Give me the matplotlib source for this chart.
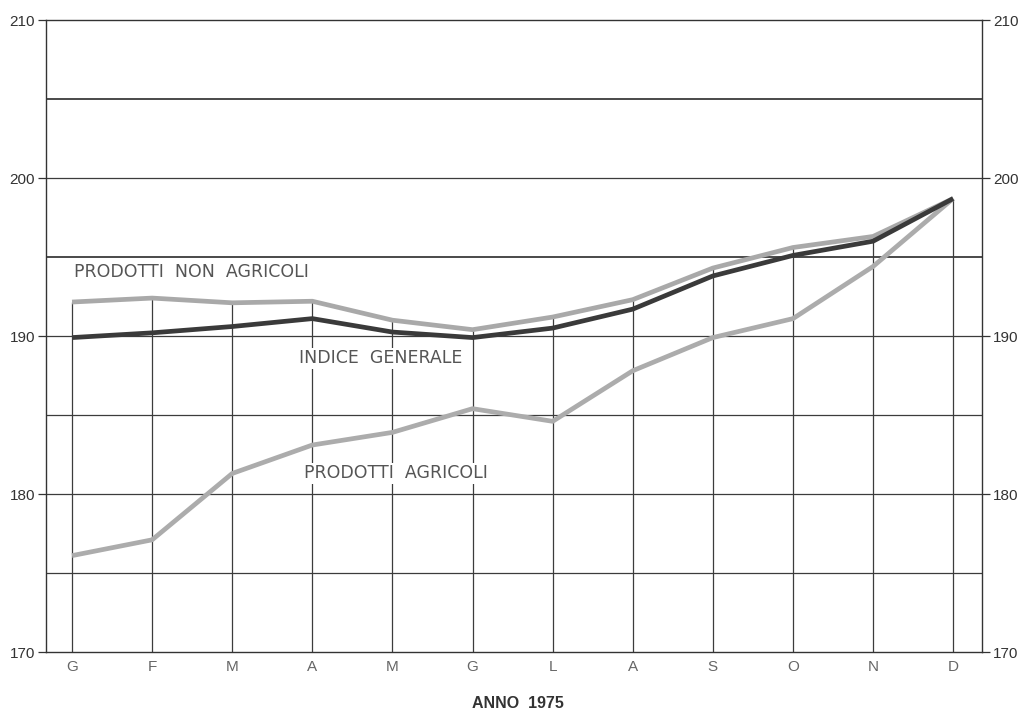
import matplotlib
matplotlib.use("Agg")
import matplotlib.pyplot as plt
import numpy as np

mesi = ["G", "F", "M", "A", "M", "G", "L", "A", "S", "O", "N", "D"]
non_agricoli = [192.15, 192.4, 192.1, 192.2, 191.0, 190.4, 191.2, 192.3, 194.3, 195.6, 196.3, 198.7]
indice_generale = [189.9, 190.2, 190.6, 191.1, 190.25, 189.9, 190.5, 191.7, 193.8, 195.1, 196.0, 198.7]
agricoli = [176.1, 177.1, 181.3, 183.1, 183.9, 185.4, 184.6, 187.8, 189.9, 191.1, 194.4, 198.7]
yticks = [170, 180, 190, 200, 210]
griglia = [175, 180, 185, 190, 195, 200, 205]

plt.rcParams['font.family'] = ['Liberation Sans', 'DejaVu Sans']

fig = plt.figure(figsize=(10.25, 7.17), dpi=100)
ax = fig.add_axes([46/1025, 1 - 652/717, 936/1025, 632/717])

x = np.arange(len(mesi))

# griglia orizzontale
for g in griglia:
	lw = 1.3 if g in (195, 205) else 0.9
	ax.axhline(g, color="#3c3c3c", lw=lw, zorder=1)

# linee verticali fino alla serie piu alta
top = np.maximum(np.maximum(non_agricoli, indice_generale), agricoli)
ax.vlines(x, 170, top, color="#3c3c3c", lw=0.9, zorder=1)

ax.plot(x, non_agricoli, color="#a9a9a9", lw=3.4, zorder=3, solid_capstyle="butt")
ax.plot(x, indice_generale, color="#3a3a3a", lw=3.4, zorder=4, solid_capstyle="butt")
ax.plot(x, agricoli, color="#acacac", lw=3.4, zorder=3, solid_capstyle="butt")

ax.set_xlim(-0.325, 11.36)
ax.set_ylim(170, 210)

ax.set_xticks(x)
ax.set_xticklabels(mesi, color="#666666", fontsize=11)
ax.tick_params(axis="x", length=0, pad=6)

ax.set_yticks(yticks)
ax.tick_params(axis="y", length=6, width=0.9, labelsize=11, colors="#333333",
			   left=True, right=True, labelleft=True, labelright=True, pad=2)

for s in ax.spines.values():
	s.set_color("#333333")
	s.set_linewidth(1.0)

etichetta = dict(fontsize=12.5, color="#555555", va="center", ha="left", zorder=5,
				 family="DejaVu Sans")
ax.text(0.03, 194.05, "PRODOTTI  NON  AGRICOLI", **etichetta)
ax.text(2.83, 188.6, "INDICE  GENERALE",
		bbox=dict(facecolor="white", edgecolor="none", pad=1), **etichetta)
ax.text(2.89, 181.3, "PRODOTTI  AGRICOLI",
		bbox=dict(facecolor="white", edgecolor="none", pad=1), **etichetta)

fig.text(518/1025, 1 - 703/717, "ANNO  1975", fontsize=11.5, fontweight="bold",
		 color="#333333", ha="center", va="center")

fig.savefig("out.png", dpi=100)
